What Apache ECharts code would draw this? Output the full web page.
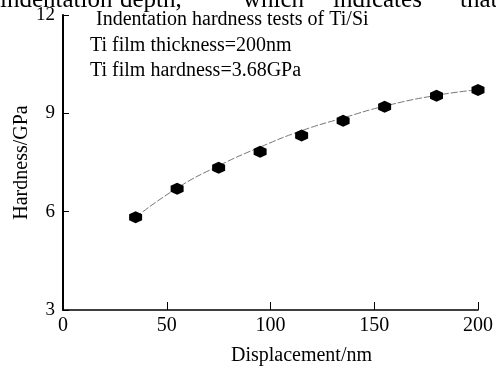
<!DOCTYPE html>
<html>
<head>
<meta charset="utf-8">
<script src="https://cdn.jsdelivr.net/npm/echarts@6/dist/echarts.min.js"></script>
<style>html,body{margin:0;padding:0;background:#fff}#c{width:496px;height:367px}</style>
</head>
<body>
<div id="c"></div>
<script>
var displacement = [35, 55, 75, 95, 115, 135, 155, 180, 200];
var hardness = [5.83, 6.70, 7.34, 7.83, 8.32, 8.77, 9.20, 9.54, 9.71];
var fitX = [35, 55, 75, 95, 115, 135, 155, 180, 200];
var fitHardness = [5.83, 6.72, 7.40, 7.97, 8.47, 8.86, 9.22, 9.55, 9.72];
var xTicks = [0, 50, 100, 150, 200];
var yTicks = [3, 6, 9, 12];
var annotations = ['Indentation hardness tests of Ti/Si', 'Ti film thickness=200nm', 'Ti film hardness=3.68GPa'];
var topWords = ['indentation', 'depth,', 'which', 'indicates', 'that'];

var serif = '"Liberation Serif", "DejaVu Serif", serif';
var chart = echarts.init(document.getElementById('c'));
var pts = displacement.map(function (x, i) { return [x, hardness[i]]; });
var fit = fitX.map(function (x, i) { return [x, fitHardness[i]]; });
var hex = 'path://M0,-10 L8.66,-5 L8.66,5 L0,10 L-8.66,5 L-8.66,-5 Z';

var topX = [0, 120, 243, 333, 460];
var graphics = topWords.map(function (w, i) {
  return {type: 'text', left: topX[i], top: -12, style: {text: w, font: '25px ' + serif, fill: '#000'}};
});
graphics.push({type: 'text', left: 96, top: 10, style: {text: annotations[0], font: '20px ' + serif, fill: '#000'}});
graphics.push({type: 'text', left: 90, top: 36, style: {text: annotations[1], font: '20px ' + serif, fill: '#000'}});
graphics.push({type: 'text', left: 90, top: 61, style: {text: annotations[2], font: '20px ' + serif, fill: '#000'}});

chart.setOption({
  animation: false,
  backgroundColor: '#fff',
  grid: {left: 63, right: 18, top: 15, bottom: 57, containLabel: false, outerBoundsMode: 'none'},
  graphic: graphics,
  xAxis: {
    type: 'value', min: xTicks[0], max: xTicks[xTicks.length - 1], interval: 50,
    name: 'Displacement/nm', nameLocation: 'middle', nameGap: 36, nameMoveOverlap: false,
    nameTextStyle: {fontFamily: serif, fontSize: 20, color: '#000', padding: [0, 0, 0, 62]},
    axisLine: {lineStyle: {color: '#000', width: 1.5}},
    axisTick: {inside: true, length: 8, lineStyle: {color: '#000', width: 1}},
    axisLabel: {fontFamily: serif, fontSize: 20, color: '#000', margin: 6},
    splitLine: {show: false}
  },
  yAxis: {
    type: 'value', min: yTicks[0], max: yTicks[yTicks.length - 1], interval: 3,
    name: 'Hardness/GPa', nameLocation: 'middle', nameGap: 31, nameMoveOverlap: false,
    nameTextStyle: {fontFamily: serif, fontSize: 20, color: '#000'},
    axisLine: {lineStyle: {color: '#000', width: 2}},
    axisTick: {inside: true, length: 6, lineStyle: {color: '#000', width: 1}},
    axisLabel: {fontFamily: serif, fontSize: 19, color: '#000', margin: 8},
    splitLine: {show: false}
  },
  series: [
    {type: 'line', data: fit, smooth: true, showSymbol: false, symbol: 'none',
     lineStyle: {color: '#777', width: 1, type: [7, 2]}, z: 1},
    {type: 'scatter', data: pts, symbol: hex, symbolSize: [13, 12],
     itemStyle: {color: '#000', opacity: 1}, z: 2}
  ]
});
</script>
</body>
</html>
